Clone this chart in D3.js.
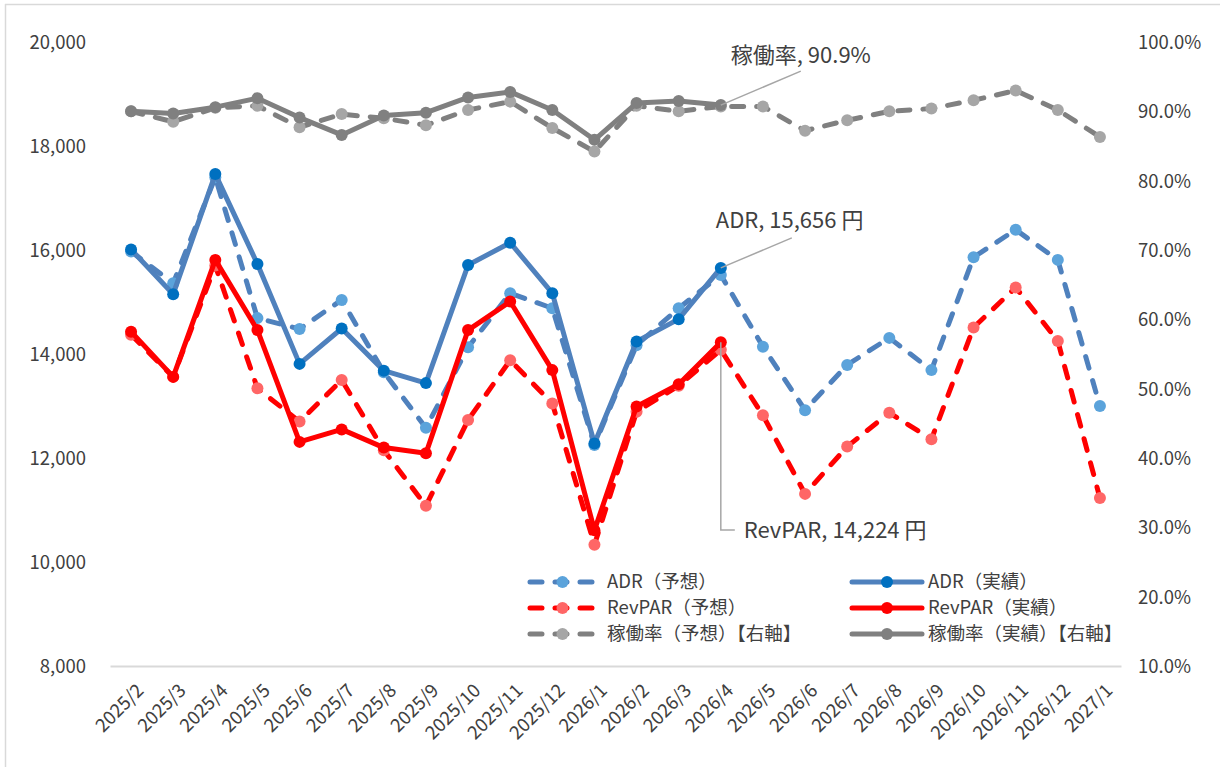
<!DOCTYPE html>
<html>
<head>
<meta charset="utf-8">
<script src="https://cdn.jsdelivr.net/npm/d3@7"></script>
<style>
  body { margin: 0; background: #fff; }
  text { font-family: "Noto Sans CJK JP", "Noto Sans", sans-serif; fill: #404040; }
</style>
</head>
<body>
<div id="chart"></div>
<script>
// months on the x axis
var months = ["2025/2","2025/3","2025/4","2025/5","2025/6","2025/7","2025/8","2025/9","2025/10","2025/11","2025/12",
              "2026/1","2026/2","2026/3","2026/4","2026/5","2026/6","2026/7","2026/8","2026/9","2026/10","2026/11","2026/12","2027/1"];

// ADR (yen)
var adrPlan   = [15970,15360,17400,14690,14480,15040,13650,12580,14130,15170,14880,12250,14170,14880,15520,14140,12920,13790,14310,13690,15860,16390,15810,13000];
var adrActual = [16010,15150,17460,15730,13810,14490,13680,13440,15710,16140,15170,12280,14240,14670,15656];

// RevPAR (yen)
var revPlan   = [14370,13560,15700,13340,12700,13500,12150,11080,12730,13880,13050,10330,12890,13390,14080,12820,11310,12220,12870,12360,14510,15280,14250,11230];
var revActual = [14430,13560,15810,14460,12310,12550,12200,12090,14460,15010,13690,10610,12990,13420,14224];

// occupancy (%) - right axis
var occPlan   = [90.0,88.5,90.5,90.8,87.7,89.6,89.0,88.0,90.2,91.4,87.6,84.2,90.8,90.0,90.7,90.7,87.2,88.7,90.0,90.4,91.6,93.0,90.2,86.3];
var occActual = [90.0,89.7,90.6,91.9,89.1,86.6,89.4,89.8,92.0,92.8,90.2,85.9,91.2,91.5,90.9];

var leftTicks  = [8000,10000,12000,14000,16000,18000,20000];
var rightTicks = [10,20,30,40,50,60,70,80,90,100];

var W = 1223, H = 767;
var plot = {left: 110, right: 1121, top: 42, bottom: 666};

var svg = d3.select("#chart").append("svg")
    .attr("width", W).attr("height", H);

// chart frame (top & left edges visible)
svg.append("line").attr("x1", 5).attr("x2", 1220).attr("y1", 4.5).attr("y2", 4.5)
   .style("stroke", "#d9d9d9").style("stroke-width", 1.5);
svg.append("line").attr("x1", 5.5).attr("x2", 5.5).attr("y1", 4).attr("y2", H)
   .style("stroke", "#d9d9d9").style("stroke-width", 1.5);

var x = d3.scaleBand().domain(months).range([plot.left, plot.right]);
var cx = function(i) { return x(months[i]) + x.bandwidth() / 2; };

var y = d3.scaleLinear().domain([8000, 20000]).range([plot.bottom, plot.top]);
var y2 = d3.scaleLinear().domain([10, 100]).range([plot.bottom, plot.top]);

// left axis labels
svg.append("g")
    .attr("transform", "translate(" + (plot.left - 24) + ",0)")
    .call(d3.axisLeft(y).tickValues(leftTicks).tickSize(0).tickFormat(d3.format(",")))
    .call(function(g) { g.select(".domain").remove(); })
    .selectAll("text").style("font-size", "18.5px").attr("dy", "0.35em").attr("x", 0);

// right axis labels
svg.append("g")
    .attr("transform", "translate(" + (plot.right + 17) + ",0)")
    .call(d3.axisRight(y2).tickValues(rightTicks).tickSize(0).tickFormat(function(d) { return d.toFixed(1) + "%"; }))
    .call(function(g) { g.select(".domain").remove(); })
    .selectAll("text").style("font-size", "18.5px").attr("dy", "0.35em").attr("x", 0);

// bottom axis
var xa = svg.append("g")
    .attr("transform", "translate(0," + plot.bottom + ")")
    .call(d3.axisBottom(x).tickSize(0));
xa.select(".domain").style("stroke", "#d9d9d9").style("stroke-width", 2);
xa.selectAll("text")
    .style("font-size", "18.5px")
    .style("text-anchor", "end")
    .attr("dy", "0.35em")
    .attr("transform", "translate(7,19) rotate(-45)");

// series definitions
var series = [
  {name: "ADR（予想）", data: adrPlan, scale: y, line: "#4f81bd", dot: "#5ba3db", dash: true},
  {name: "ADR（実績）", data: adrActual, scale: y, line: "#4f81bd", dot: "#0070c0", dash: false},
  {name: "RevPAR（予想）", data: revPlan, scale: y, line: "#ff0000", dot: "#ff6666", dash: true},
  {name: "RevPAR（実績）", data: revActual, scale: y, line: "#ff0000", dot: "#ff0000", dash: false},
  {name: "稼働率（予想）【右軸】", data: occPlan, scale: y2, line: "#808080", dot: "#a6a6a6", dash: true},
  {name: "稼働率（実績）【右軸】", data: occActual, scale: y2, line: "#808080", dot: "#808080", dash: false}
];

series.forEach(function(s) {
  var line = d3.line()
      .x(function(d, i) { return cx(i); })
      .y(function(d) { return s.scale(d); });
  svg.append("path")
      .datum(s.data)
      .attr("d", line)
      .style("fill", "none")
      .style("stroke", s.line)
      .style("stroke-width", 5)
      .style("stroke-linecap", "round")
      .style("stroke-linejoin", "round")
      .style("stroke-dasharray", s.dash ? "12,13" : null);
  svg.selectAll(null)
      .data(s.data)
      .enter()
      .append("circle")
        .attr("cx", function(d, i) { return cx(i); })
        .attr("cy", function(d) { return s.scale(d); })
        .attr("r", 6)
        .style("fill", s.dot);
});

// data labels for the latest actual values
var last = adrActual.length - 1;
var lx = cx(last);

svg.append("path")
    .attr("d", "M" + (lx) + "," + y2(occActual[last]) + "L" + (lx + 80) + "," + (y2(occActual[last]) - 34))
    .style("stroke", "#a6a6a6").style("stroke-width", 1.5).style("fill", "none");
svg.append("text").attr("x", lx + 10).attr("y", 63)
    .style("font-size", "22px").text("稼働率, " + occActual[last].toFixed(1) + "%");

svg.append("path")
    .attr("d", "M" + lx + "," + y(adrActual[last]) + "L" + (lx + 71) + "," + (y(adrActual[last]) - 30))
    .style("stroke", "#a6a6a6").style("stroke-width", 1.5).style("fill", "none");
svg.append("text").attr("x", lx - 5).attr("y", 228)
    .style("font-size", "22px").text("ADR, " + d3.format(",")(adrActual[last]) + " 円");

svg.append("path")
    .attr("d", "M" + lx + "," + y(revActual[last]) + "L" + lx + ",530L" + (lx + 14) + ",530")
    .style("stroke", "#a6a6a6").style("stroke-width", 1.5).style("fill", "none");
svg.append("text").attr("x", lx + 23).attr("y", 538)
    .style("font-size", "22px").text("RevPAR, " + d3.format(",")(revActual[last]) + " 円");

// legend, two columns
var legend = svg.append("g");
series.forEach(function(s, i) {
  var col = i % 2, row = Math.floor(i / 2);
  var x0 = col === 0 ? 530 : 852, x1 = col === 0 ? 595 : 922;
  var ly = 582 + row * 26;
  legend.append("line")
      .attr("x1", x0).attr("x2", x1).attr("y1", ly).attr("y2", ly)
      .style("stroke", s.line).style("stroke-width", 5)
      .style("stroke-linecap", "round")
      .style("stroke-dasharray", s.dash ? "12,13" : null);
  legend.append("circle").attr("cx", (x0 + x1) / 2).attr("cy", ly).attr("r", 6).style("fill", s.dot);
  legend.append("text").attr("x", x1 + (col === 0 ? 12 : 6)).attr("y", ly).attr("dy", "0.35em")
      .style("font-size", "18.5px").text(s.name);
});
</script>
</body>
</html>
